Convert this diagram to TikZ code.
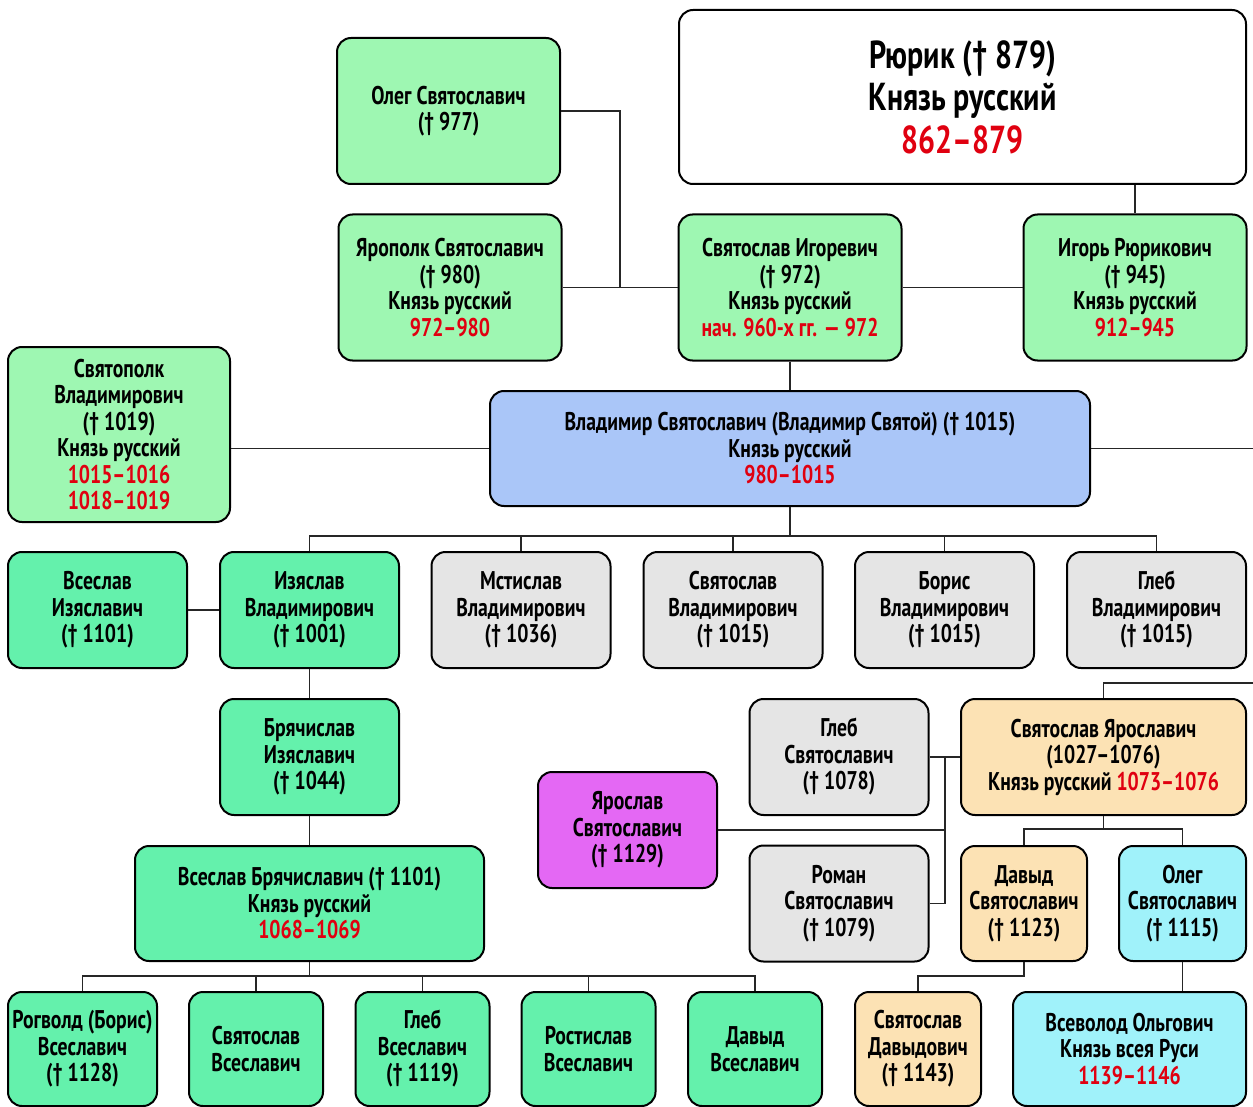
\documentclass[tikz,border=0pt]{standalone}
\usepackage{fontspec}
\setmainfont{PT Sans}[FakeStretch=0.77]
\definecolor{lgreen}{RGB}{158,247,178}
\definecolor{mgreen}{RGB}{100,241,172}
\definecolor{lgray}{RGB}{229,229,229}
\definecolor{lblue}{RGB}{170,198,248}
\definecolor{lpurple}{RGB}{228,104,244}
\definecolor{lpeach}{RGB}{252,226,180}
\definecolor{lcyan}{RGB}{160,242,250}
\definecolor{datered}{RGB}{224,0,16}
\newcommand{\yrs}[1]{\textcolor{datered}{#1}}
\begin{document}
\begin{tikzpicture}[x=0.5pt,y=-0.5pt]
				\tikzstyle{Box} = [draw, rounded corners=7pt, line width=1pt, align=center, inner sep=0pt, font=\bfseries\fontsize{12.8}{13.25}\selectfont]
				\tikzstyle{Std} = [Box, minimum width=89.5pt, minimum height=58pt]
				\tikzstyle{Wide} = [Box, minimum width=111.5pt, minimum height=73pt]
				\tikzstyle{Link} = [line width=0.8pt, draw=black!85]
				\useasboundingbox (0,0) rectangle (1253,1107);
				% top generations
				\node (rurik) at (962.5,97) [Box, fill=white, minimum width=283.5pt, minimum height=87pt, font=\bfseries\fontsize{19.5}{21.25}\selectfont] {Рюрик († 879)\\Князь русский\\\yrs{862–879}};
				\node (oleg977) at (448.5,111) [Wide, fill=lgreen] {Олег Святославич\\(† 977)};
				\node (yaropolk) at (450,287.5) [Wide, fill=lgreen] {Ярополк Святославич\\(† 980)\\Князь русский\\\yrs{972–980}};
				\node (svig) at (790,287.5) [Wide, fill=lgreen] {Святослав Игоревич\\(† 972)\\Князь русский\\\yrs{нач. 960-х гг. — 972}};
				\node (igor) at (1135,287.5) [Wide, fill=lgreen] {Игорь Рюрикович\\(† 945)\\Князь русский\\\yrs{912–945}};
				\node (svyatopolk) at (119,434.5) [Box, fill=lgreen, minimum width=111pt, minimum height=87.5pt] {Святополк\\Владимирович\\(† 1019)\\Князь русский\\\yrs{1015–1016}\\\yrs{1018–1019}};
				\node (vladimir) at (790,448.5) [Box, fill=lblue, minimum width=300pt, minimum height=57.5pt] {Владимир Святославич (Владимир Святой) († 1015)\\Князь русский\\\yrs{980–1015}};
				% sons of Vladimir
				\node (vseslavI) at (97.5,610) [Std, fill=mgreen] {Всеслав\\Изяславич\\(† 1101)};
				\node (izyaslav) at (309.5,610) [Std, fill=mgreen] {Изяслав\\Владимирович\\(† 1001)};
				\node (mstislav) at (521,610) [Std, fill=lgray] {Мстислав\\Владимирович\\(† 1036)};
				\node (svyatoslavV) at (733,610) [Std, fill=lgray] {Святослав\\Владимирович\\(† 1015)};
				\node (boris) at (944.5,610) [Std, fill=lgray] {Борис\\Владимирович\\(† 1015)};
				\node (glebV) at (1156.5,610) [Std, fill=lgray] {Глеб\\Владимирович\\(† 1015)};
				% Polotsk line
				\node (bryachislav) at (309.5,757) [Std, fill=mgreen] {Брячислав\\Изяславич\\(† 1044)};
				\node (vseslavB) at (309.5,903.5) [Box, fill=mgreen, minimum width=174.5pt, minimum height=57.5pt] {Всеслав Брячиславич († 1101)\\Князь русский\\\yrs{1068–1069}};
				\node (rogvold) at (82.5,1049) [Box, fill=mgreen, minimum width=74.5pt, minimum height=57pt] {Рогволд (Борис)\\Всеславич\\(† 1128)};
				\node (svyatoslavVs) at (256,1049) [Box, fill=mgreen, minimum width=67pt, minimum height=57pt] {Святослав\\Всеславич};
				\node (glebVs) at (422.5,1049) [Box, fill=mgreen, minimum width=67pt, minimum height=57pt] {Глеб\\Всеславич\\(† 1119)};
				\node (rostislav) at (588.5,1049) [Box, fill=mgreen, minimum width=67pt, minimum height=57pt] {Ростислав\\Всеславич};
				\node (davidVs) at (755,1049) [Box, fill=mgreen, minimum width=67pt, minimum height=57pt] {Давыд\\Всеславич};
				% Chernigov line
				\node (glebS) at (839,757) [Std, fill=lgray] {Глеб\\Святославич\\(† 1078)};
				\node (romanS) at (839,903.5) [Std, fill=lgray] {Роман\\Святославич\\(† 1079)};
				\node (yaroslavS) at (627.5,830) [Std, fill=lpurple] {Ярослав\\Святославич\\(† 1129)};
				\node (svyar) at (1103.5,757) [Box, fill=lpeach, minimum width=142.5pt, minimum height=58pt] {Святослав Ярославич\\(1027–1076)\\Князь русский \yrs{1073–1076}};
				\node (davidS) at (1024,903.5) [Box, fill=lpeach, minimum width=63pt, minimum height=57.5pt] {Давыд\\Святославич\\(† 1123)};
				\node (olegS) at (1182.5,903.5) [Box, fill=lcyan, minimum width=63.5pt, minimum height=57.5pt] {Олег\\Святославич\\(† 1115)};
				\node (svdav) at (918,1049) [Box, fill=lpeach, minimum width=63pt, minimum height=57pt] {Святослав\\Давыдович\\(† 1143)};
				\node (vsevolod) at (1129.5,1049) [Box, fill=lcyan, minimum width=116.5pt, minimum height=57pt] {Всеволод Ольгович\\Князь всея Руси\\\yrs{1139–1146}};
				% joints
				\coordinate (j1) at (620,287.5);
				\coordinate (edgeA) at (1253,448.5);
				\coordinate (busA) at (790,536);
				\coordinate (busB) at (309.5,976);
				\coordinate (edgeB) at (1253,683);
				\coordinate (busC) at (945,757);
				\coordinate (busD) at (1103.5,829);
				\coordinate (busE) at (1024,976);
				% links
				\draw [Link] (oleg977.east) -| (j1);
				\draw [Link] (yaropolk) to (svig);
				\draw [Link] (svig) to (igor);
				\draw [Link] (rurik.south -| igor.north) to (igor.north);
				\draw [Link] (svig) to (vladimir);
				\draw [Link] (svyatopolk.east |- vladimir.west) to (vladimir.west);
				\draw [Link] (vladimir.east) to (edgeA);
				\draw [Link] (vladimir.south) to (busA);
				\foreach \n in {izyaslav,mstislav,svyatoslavV,boris,glebV}
					\draw [Link] (busA) -| (\n.north);
				\draw [Link] (vseslavI) to (izyaslav);
				\draw [Link] (izyaslav) to (bryachislav);
				\draw [Link] (bryachislav) to (vseslavB);
				\draw [Link] (vseslavB.south) to (busB);
				\foreach \n in {rogvold,svyatoslavVs,glebVs,rostislav,davidVs}
					\draw [Link] (busB) -| (\n.north);
				\draw [Link] (svyar.north) |- (edgeB);
				\draw [Link] (glebS) to (svyar);
				\draw [Link] (romanS.east) -| (busC);
				\draw [Link] (yaroslavS.east) to (yaroslavS.east -| busC);
				\draw [Link] (svyar.south) to (busD);
				\draw [Link] (busD) -| (davidS.north);
				\draw [Link] (busD) -| (olegS.north);
				\draw [Link] (davidS.south) to (busE) -| (svdav.north);
				\draw [Link] (olegS.south) to (olegS.south |- vsevolod.north);
			\end{tikzpicture}
\end{document}
